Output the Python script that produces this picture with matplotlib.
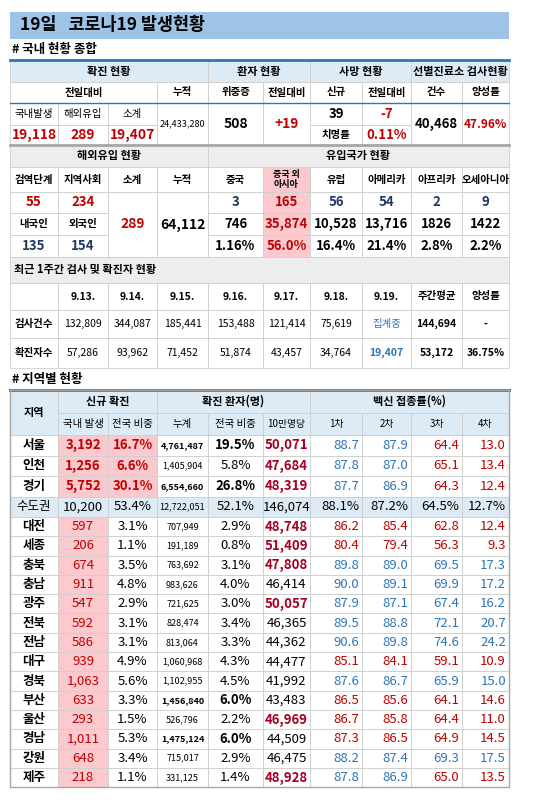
import matplotlib
matplotlib.use("Agg")
import matplotlib.pyplot as plt
from matplotlib.patches import Rectangle

plt.rcParams['font.family'] = ['Noto Sans CJK KR', 'DejaVu Sans']

# ---- 데이터 ----
title = "19일   코로나19 발생현황"
domestic_new = ["19,118", "289", "19,407"]
total_cum = "24,433,280"
critical, critical_diff = "508", "+19"
death_new, death_diff, fatality = "39", "-7", "0.11%"
tests, positive_rate = "40,468", "47.96%"

overseas_stage = ["55", "234"]
overseas_sum, overseas_cum = "289", "64,112"
overseas_nat = ["135", "154"]
origin_names = ["중국", "중국 외\n아시아", "유럽", "아메리카", "아프리카", "오세아니아"]
origin_today = ["3", "165", "56", "54", "2", "9"]
origin_cum = ["746", "35,874", "10,528", "13,716", "1826", "1422"]
origin_share = ["1.16%", "56.0%", "16.4%", "21.4%", "2.8%", "2.2%"]

week_dates = ["9.13.", "9.14.", "9.15.", "9.16.", "9.17.", "9.18.", "9.19."]
week_tests = ["132,809", "344,087", "185,441", "153,488", "121,414", "75,619", "집계중"]
week_cases = ["57,286", "93,962", "71,452", "51,874", "43,457", "34,764", "19,407"]
week_avg = ["144,694", "53,172"]
week_rate = ["-", "36.75%"]

regions = ["서울", "인천", "경기", "수도권", "대전", "세종", "충북", "충남", "광주", "전북",
           "전남", "대구", "경북", "부산", "울산", "경남", "강원", "제주"]
new_cases = [3192, 1256, 5752, 10200, 597, 206, 674, 911, 547, 592, 586, 939, 1063, 633, 293, 1011, 648, 218]
new_share = [16.7, 6.6, 30.1, 53.4, 3.1, 1.1, 3.5, 4.8, 2.9, 3.1, 3.1, 4.9, 5.6, 3.3, 1.5, 5.3, 3.4, 1.1]
cum_cases = [4761487, 1405904, 6554660, 12722051, 707949, 191189, 763692, 983626, 721625, 828474,
             813064, 1060968, 1102955, 1456840, 526796, 1475124, 715017, 331125]
cum_share = [19.5, 5.8, 26.8, 52.1, 2.9, 0.8, 3.1, 4.0, 3.0, 3.4, 3.3, 4.3, 4.5, 6.0, 2.2, 6.0, 2.9, 1.4]
per_100k = [50071, 47684, 48319, 146074, 48748, 51409, 47808, 46414, 50057, 46365,
            44362, 44477, 41992, 43483, 46969, 44509, 46475, 48928]
vac1 = [88.7, 87.8, 87.7, 88.1, 86.2, 80.4, 89.8, 90.0, 87.9, 89.5, 90.6, 85.1, 87.6, 86.5, 86.7, 87.3, 88.2, 87.8]
vac2 = [87.9, 87.0, 86.9, 87.2, 85.4, 79.4, 89.0, 89.1, 87.1, 88.8, 89.8, 84.1, 86.7, 85.6, 85.8, 86.5, 87.4, 86.9]
vac3 = [64.4, 65.1, 64.3, 64.5, 62.8, 56.3, 69.5, 69.9, 67.4, 72.1, 74.6, 59.1, 65.9, 64.1, 64.4, 64.9, 69.3, 65.0]
vac4 = [13.0, 13.4, 12.4, 12.7, 12.4, 9.3, 17.3, 17.2, 16.2, 20.7, 24.2, 10.9, 15.0, 14.6, 11.0, 14.5, 17.5, 13.5]
vac_color = ["bbrr", "bbrr", "bbrr", "kkkk", "rrrr", "rrrr", "bbbb", "bbbb", "bbbb", "bbbb",
             "bbbb", "rrrr", "bbbb", "rrrr", "rrrr", "rrrr", "bbbb", "bbrr"]

# ---- 스타일 ----
RED, DRED, BLUE, NAVY = "#C00000", "#A50021", "#2E75B6", "#1F3864"
PINK, HEAD, GRAY, LINE = "#FCC9CE", "#DDEBF7", "#EDEDED", "#D0D0D0"
COLS = [10, 58, 108, 157, 208, 263, 310, 362, 411, 462, 509]
VC = {"b": BLUE, "r": RED, "k": "black"}

fig = plt.figure(figsize=(5.5, 8.02), dpi=100)
ax = fig.add_axes([0, 0, 1, 1])
ax.set_xlim(0, 550)
ax.set_ylim(802, 0)
ax.axis('off')


def cell(c0, c1, y0, y1, text="", color="black", bold=False, size=8.5, bg=None, grid=True, ha="center"):
    x0, x1 = COLS[c0], COLS[c1]
    if bg:
        ax.add_patch(Rectangle((x0, y0), x1 - x0, y1 - y0, fc=bg, ec="none", zorder=1))
    if grid:
        ax.add_patch(Rectangle((x0, y0), x1 - x0, y1 - y0, fc="none", ec=LINE, lw=0.6, zorder=2))
    if text:
        tx = (x0 + x1) / 2 if ha == "center" else x0 + 6
        ax.text(tx, (y0 + y1) / 2, text, ha=ha, va="center", color=color, fontsize=size,
                fontweight="bold" if bold else "normal", zorder=3, linespacing=1.0)


def hline(y, color, lw):
    ax.plot([COLS[0], COLS[-1]], [y, y], color=color, lw=lw, zorder=4)


# 제목
ax.add_patch(Rectangle((10, 12), 499, 27, fc="#9DC3E6", ec="none"))
ax.text(20, 25.5, title, fontsize=12.5, fontweight="bold", va="center")
ax.text(12, 49, "# 국내 현황 종합", fontsize=9, fontweight="bold", va="center")

# 표1
for c0, c1, t in [(0, 4, "확진 현황"), (4, 6, "환자 현황"), (6, 8, "사망 현황"), (8, 10, "선별진료소 검사현황")]:
    cell(c0, c1, 60, 82, t, bold=True, size=8, bg=HEAD)
for c0, c1, t in [(0, 3, "전일대비"), (3, 4, "누적"), (4, 5, "위중증"), (5, 6, "전일대비"),
                  (6, 7, "신규"), (7, 8, "전일대비"), (8, 9, "건수"), (9, 10, "양성률")]:
    cell(c0, c1, 82, 103, t, bold=True, size=7.5)
for i, t in enumerate(["국내발생", "해외유입", "소계"]):
    cell(i, i + 1, 103, 125, t, size=7.5)
    cell(i, i + 1, 125, 145, domestic_new[i], color=RED, bold=True, size=10)
cell(3, 4, 103, 145, total_cum, size=6.5)
cell(4, 5, 103, 145, critical, bold=True, size=10)
cell(5, 6, 103, 145, critical_diff, color=RED, bold=True, size=10)
cell(6, 7, 103, 125, death_new, bold=True, size=9.5)
cell(7, 8, 103, 125, death_diff, color=RED, bold=True, size=9.5)
cell(6, 7, 125, 145, "치명률", bold=True, size=7.5)
cell(7, 8, 125, 145, fatality, color=RED, bold=True, size=9.5)
cell(8, 9, 103, 145, tests, bold=True, size=9.5)
cell(9, 10, 103, 145, positive_rate, color=RED, bold=True, size=8.5)
hline(60, "#2E75B6", 2)
hline(103, "#2E75B6", 1)

# 표2
cell(0, 4, 145, 167, "해외유입 현황", bold=True, size=8, bg=GRAY)
cell(4, 10, 145, 167, "유입국가 현황", bold=True, size=8, bg=GRAY)
for i, t in enumerate(["검역단계", "지역사회", "소계", "누적"]):
    cell(i, i + 1, 167, 192, t, size=7.5, bold=True)
for i, t in enumerate(origin_names):
    pk = PINK if i == 1 else None
    cell(4 + i, 5 + i, 167, 192, t, size=6.5 if i == 1 else 7.5, bold=True, bg=pk)
    cell(4 + i, 5 + i, 192, 213, origin_today[i], color=RED if i == 1 else NAVY, bold=True, size=9.5, bg=pk)
    cell(4 + i, 5 + i, 213, 235, origin_cum[i], color=RED if i == 1 else "black", bold=True, size=9.5, bg=pk)
    cell(4 + i, 5 + i, 235, 257, origin_share[i], color=RED if i == 1 else "black", bold=True, size=9.5, bg=pk)
for i in range(2):
    cell(i, i + 1, 192, 213, overseas_stage[i], color=RED, bold=True, size=9.5)
    cell(i, i + 1, 213, 235, ["내국인", "외국인"][i], bold=True, size=7.5)
    cell(i, i + 1, 235, 257, overseas_nat[i], color=NAVY, bold=True, size=9.5)
cell(2, 3, 192, 257, overseas_sum, color=RED, bold=True, size=10)
cell(3, 4, 192, 257, overseas_cum, bold=True, size=10)
hline(145, "#A6A6A6", 2)

# 표3
ax.add_patch(Rectangle((10, 257), 499, 26, fc=GRAY, ec=LINE, lw=0.6))
ax.text(14, 270, "최근 1주간 검사 및 확진자 현황", fontsize=8, fontweight="bold", va="center")
cell(0, 1, 283, 310)
for i, d in enumerate(week_dates):
    cell(i + 1, i + 2, 283, 310, d, bold=True, size=7.5)
    last = i == 6
    cell(i + 1, i + 2, 310, 338, week_tests[i], color=BLUE if last else "black", size=7.5)
    cell(i + 1, i + 2, 338, 368, week_cases[i], color=BLUE if last else "black", bold=last, size=7.5)
cell(8, 9, 283, 310, "주간평균", bold=True, size=7.5)
cell(9, 10, 283, 310, "양성률", bold=True, size=7.5)
cell(0, 1, 310, 338, "검사건수", bold=True, size=7.5)
cell(0, 1, 338, 368, "확진자수", bold=True, size=7.5)
for j, (y0, y1) in enumerate([(310, 338), (338, 368)]):
    cell(8, 9, y0, y1, week_avg[j], bold=True, size=7.5)
    cell(9, 10, y0, y1, week_rate[j], bold=True, size=7.5)

# 표4
ax.text(12, 379, "# 지역별 현황", fontsize=9, fontweight="bold", va="center")
cell(0, 1, 390, 435, "지역", bold=True, size=8, bg=HEAD)
cell(1, 3, 390, 413, "신규 확진", bold=True, size=8, bg=HEAD)
cell(3, 6, 390, 413, "확진 환자(명)", bold=True, size=8, bg=HEAD)
cell(6, 10, 390, 413, "백신 접종률(%)", bold=True, size=8, bg=HEAD)
for i, t in enumerate(["국내 발생", "전국 비중", "누계", "전국 비중", "10만명당", "1차", "2차", "3차", "4차"]):
    cell(i + 1, i + 2, 413, 435, t, size=7.5 if i < 4 else 7, bg=HEAD)

y = 435
for r, name in enumerate(regions):
    h = 20.5 if r < 4 else 19.3
    y0, y1 = y, y + h
    metro = name == "수도권"
    top3 = r < 3
    rbg = HEAD if metro else None
    big = cum_cases[r] > 1450000 and not metro
    cell(0, 1, y0, y1, name, bold=not metro, size=9, bg=rbg)
    cell(1, 2, y0, y1, f"{new_cases[r]:,}", color="black" if metro else RED, bold=top3, size=9.5,
         bg=rbg if metro else PINK)
    cell(2, 3, y0, y1, f"{new_share[r]:.1f}%", color=RED if top3 else "black", bold=top3, size=9.5,
         bg=PINK if top3 else rbg)
    cell(3, 4, y0, y1, f"{cum_cases[r]:,}", bold=big, size=6.5, bg=rbg)
    cell(4, 5, y0, y1, f"{cum_share[r]:.1f}%", bold=big, size=9.5, bg=rbg)
    hot = per_100k[r] > 46500 and not metro
    cell(5, 6, y0, y1, f"{per_100k[r]:,}", color=DRED if hot else "black", bold=hot, size=9.5, bg=rbg)
    for k, v in enumerate([vac1[r], vac2[r], vac3[r], vac4[r]]):
        txt = f"{v:.1f}%" if metro else f"{v:.1f}"
        col = 6 + k
        cell(col, col + 1, y0, y1, bg=rbg)
        ax.text(COLS[col + 1] - 3, (y0 + y1) / 2, txt, ha="right", va="center", fontsize=9.5,
                color=VC[vac_color[r][k]], zorder=3)
    y = y1
hline(390, "#2E75B6", 2)
ax.add_patch(Rectangle((10, 390), 499, y - 390, fc="none", ec="#A6A6A6", lw=1, zorder=5))

plt.savefig("out.png", dpi=100)
plt.close()
